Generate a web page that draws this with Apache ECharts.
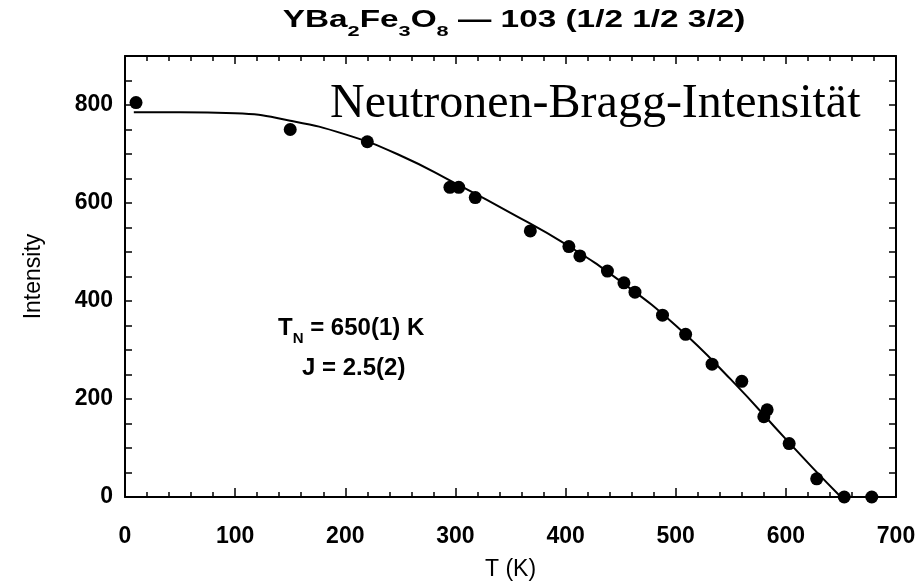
<!DOCTYPE html>
<html><head><meta charset="utf-8">
<script src="https://cdn.jsdelivr.net/npm/echarts@6/dist/echarts.min.js"></script>
<style>html,body{margin:0;padding:0;background:#fff}#c{width:919px;height:588px}</style>
</head><body><div id="c"></div>
<script>
// Measured data points (T in K, neutron Bragg intensity)
const tempK = [10, 150, 220, 295, 303, 318, 368, 403, 413, 438, 453, 463, 488, 509, 533, 560, 580, 583, 603, 628, 653, 678];
const intensity = [805, 750, 725, 632, 632, 611, 543, 511, 492, 461, 437, 418, 371, 332, 271, 236, 164, 178, 109, 37, 0, 0];
// Fit curve
const fitT = [8, 50, 100, 150, 200, 250, 300, 350, 400, 450, 500, 550, 600, 625, 650];
const fitI = [785, 785, 783, 768, 740, 697, 640, 580, 516, 440, 350, 240, 118, 58, 0];
// Axis ticks
const xRange = [0, 700];
const yRange = [0, 900];
const yLabelValues = [0, 200, 400, 600, 800];
const titleMain = ['YBa', 'Fe', 'O', ' \u2014 103 (1/2 1/2 3/2)'];
const titleSubs = ['2', '3', '8'];

const chart = echarts.init(document.getElementById('c'), null, {renderer: 'canvas'});
const pts = tempK.map((t, i) => [t, intensity[i]]);
const fit = fitT.map((t, i) => [t, fitI[i]]);
const sans = 'Liberation Sans, Arial, sans-serif';
const axisLine = {show: true, onZero: false, lineStyle: {color: '#000', width: 2}};

const titleRich = '{m|' + titleMain[0] + '}{s|' + titleSubs[0] + '}{m|' + titleMain[1] + '}{s|' + titleSubs[1] + '}{m|' + titleMain[2] + '}{s|' + titleSubs[2] + '}{m|' + titleMain[3] + '}';

chart.setOption({
  animation: false,
  backgroundColor: '#fff',
  grid: {left: 125, right: 23, top: 56, bottom: 91, outerBoundsMode: 'none', containLabel: false},
  xAxis: [{
    type: 'value', min: xRange[0], max: xRange[1], interval: 100, position: 'bottom',
    name: 'T (K)', nameLocation: 'middle', nameGap: 61,
    nameTextStyle: {fontFamily: sans, fontSize: 23, color: '#000'},
    axisLine: axisLine,
    axisTick: {show: true, inside: true, length: 9, lineStyle: {color: '#000', width: 1.5}},
    minorTick: {show: true, splitNumber: 5, length: 5, lineStyle: {color: '#000', width: 1.5}},
    axisLabel: {margin: 28, fontFamily: sans, fontSize: 23, fontWeight: 'bold', color: '#000'},
    splitLine: {show: false}
  }, {
    type: 'value', min: xRange[0], max: xRange[1], interval: 100, position: 'top',
    axisLine: axisLine,
    axisTick: {show: true, inside: true, length: 8, lineStyle: {color: '#000', width: 1.5}},
    minorTick: {show: true, splitNumber: 5, length: 5, lineStyle: {color: '#000', width: 1.5}},
    axisLabel: {show: false}, splitLine: {show: false}
  }],
  yAxis: [{
    type: 'value', min: yRange[0], max: yRange[1], interval: 50, position: 'left',
    name: 'Intensity', nameLocation: 'middle', nameGap: 80,
    nameTextStyle: {fontFamily: sans, fontSize: 23, color: '#000'},
    axisLine: axisLine,
    axisTick: {show: true, inside: true, length: 7, lineStyle: {color: '#000', width: 1.5}},
    axisLabel: {margin: 12, fontFamily: sans, fontSize: 23, fontWeight: 'bold', color: '#000',
      formatter: v => yLabelValues.indexOf(v) >= 0 ? String(v) : ''},
    splitLine: {show: false}
  }, {
    type: 'value', min: yRange[0], max: yRange[1], interval: 50, position: 'right',
    axisLine: axisLine,
    axisTick: {show: true, inside: true, length: 7, lineStyle: {color: '#000', width: 1.5}},
    axisLabel: {show: false}, splitLine: {show: false}
  }],
  series: [{
    type: 'line', data: fit, xAxisIndex: 0, yAxisIndex: 0,
    showSymbol: false, smooth: 0.5,
    lineStyle: {color: '#000', width: 2}, z: 2
  }, {
    type: 'scatter', data: pts, xAxisIndex: 0, yAxisIndex: 0,
    symbol: 'circle', symbolSize: 13, clip: false,
    itemStyle: {color: '#000', opacity: 1}, z: 3
  }],
  graphic: [{
    type: 'text', x: 514, y: 21, scaleX: 1.45, originX: 0, originY: 0,
    style: {
      text: titleRich, align: 'center', verticalAlign: 'middle',
      rich: {
        m: {fontFamily: sans, fontWeight: 'bold', fontSize: 23, lineHeight: 23, fill: '#000'},
        s: {fontFamily: sans, fontWeight: 'bold', fontSize: 15, lineHeight: 15, padding: [22, 0, 0, 0], fill: '#000'}
      }
    }
  }, {
    type: 'text', x: 330, y: 104,
    style: {text: 'Neutronen-Bragg-Intensität', font: '48px "Liberation Serif", "Times New Roman", serif',
      fill: '#000', align: 'left', verticalAlign: 'middle'}
  }, {
    type: 'text', x: 278, y: 328,
    style: {
      text: '{m|T}{s|N}{m| = 650(1) K}', align: 'left', verticalAlign: 'middle',
      rich: {
        m: {fontFamily: sans, fontWeight: 'bold', fontSize: 24, lineHeight: 24, fill: '#000'},
        s: {fontFamily: sans, fontWeight: 'bold', fontSize: 15, lineHeight: 15, padding: [21, 0, 0, 0], fill: '#000'}
      }
    }
  }, {
    type: 'text', x: 302, y: 368,
    style: {text: 'J = 2.5(2)', font: 'bold 24px "Liberation Sans", Arial, sans-serif', fill: '#000', align: 'left', verticalAlign: 'middle'}
  }]
});
</script></body></html>
